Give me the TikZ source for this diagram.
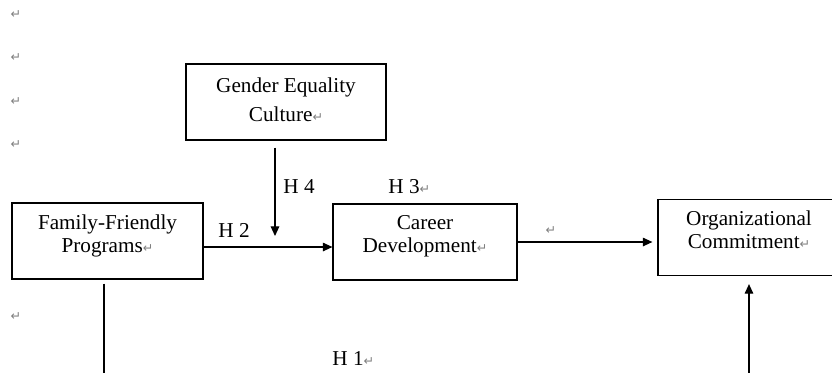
\documentclass[tikz,border=0pt]{standalone}
\usepackage{fontspec}
\setmainfont{Liberation Serif}
\newfontfamily\markfont{DejaVu Sans}
\usetikzlibrary{arrows.meta}
\definecolor{retgray}{HTML}{808080}
\newcommand{\ret}{{\markfont\fontsize{6.3}{7}\selectfont\color{retgray}\symbol{"21B5}}}
\newcommand{\pad}{\rule[-7.8pt]{0pt}{0pt}}

\tikzset{
    box/.style={draw, line width=0.6pt, align=center, minimum height=38pt, inner sep=0pt},
    arr/.style={line width=0.55pt, -{Triangle[length=4.8pt,width=4.3pt]}},
    link/.style={line width=0.55pt},
    hyp/.style={inner sep=0pt, anchor=west},
}

\begin{document}
\begin{tikzpicture}[x=0.5pt, y=-0.5pt, font=\fontsize{10.6}{11.5}\selectfont]
    \useasboundingbox (0,0) rectangle (832,372);

    % Variables
    \node [box, minimum width=100pt] (gender) at (286,102) {Gender Equality\\[3pt]Culture\ret\rule[-2.3pt]{0pt}{0pt}};
    \node [box, minimum width=95.5pt] (family) at (107.5,241) {Family-Friendly\\Programs\ret\pad};
    \node [box, minimum width=92pt] (career) at (425,242) {Career\\Development\ret\pad};
    \node [box, minimum width=91pt] (org) at (749,237.5) {Organizational\\Commitment\ret\pad};

    % Hypothesis labels
    \node [hyp] (h4) at (283,186.5) {H 4};
    \node [hyp] (h3) at (388,186.5) {H 3\ret};
    \node [hyp] (h2) at (218,230) {H 2};
    \node [hyp] (h1) at (332,358) {H 1\ret};

    % Paragraph marks
    \foreach \px/\py [count=\i] in {16/15, 16/58, 16/102, 16/145, 16/317, 551/231}
        \node [inner sep=0pt] (ret\i) at (\px,\py) {\ret};

    % Paths
    \coordinate (h4tip) at (275,236);
    \coordinate (ffout) at (104,380);
    \coordinate (ocin) at (749,380);
    \draw [arr, shorten <=3.5pt] (gender.south -| h4tip) -- (h4tip); % moderator
    \draw [arr] ([yshift=-3pt]family.east) -- ([yshift=-3pt]family.east -| career.west);
    \draw [arr, shorten >=2.5pt] (career.east) -- (career.east -| org.west);
    \draw [link, shorten <=2pt] (family.south -| ffout) -- (ffout); % H1 path
    \draw [arr, shorten >=4pt] (ocin) -- (ocin |- org.south);
\end{tikzpicture}
\end{document}
